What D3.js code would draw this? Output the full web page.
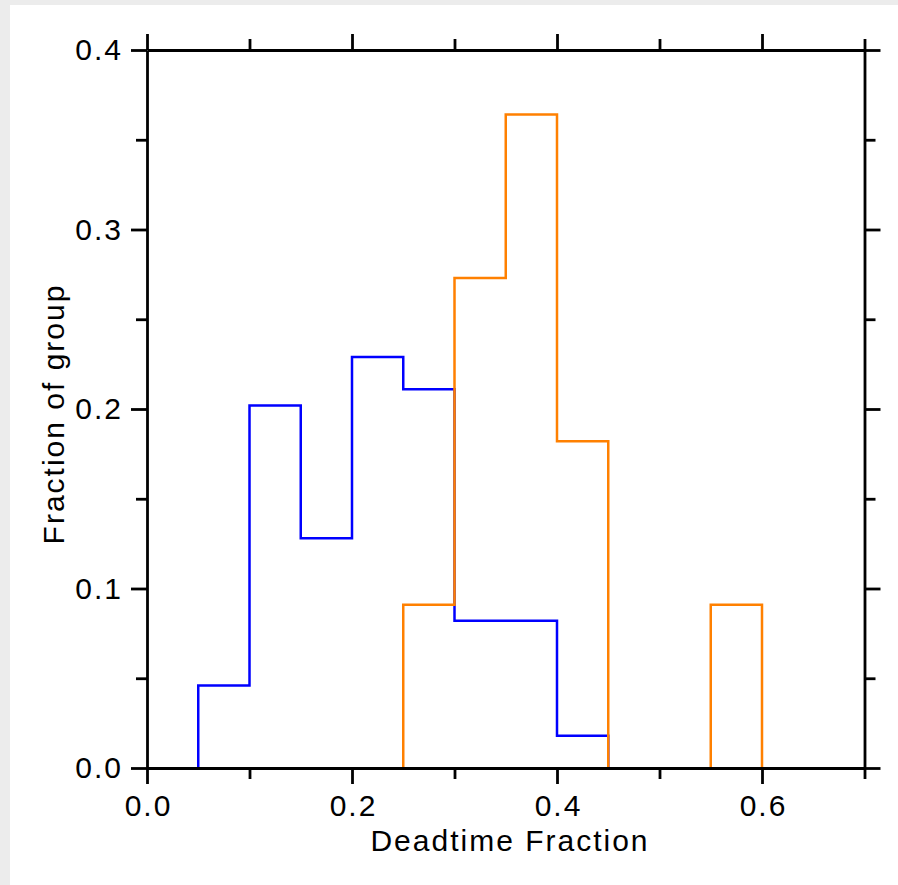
<!DOCTYPE html>
<html>
<head>
<meta charset="utf-8">
<script src="https://cdn.jsdelivr.net/npm/d3@7"></script>
<style>
  body { margin: 0; background: #ececec; }
  svg { display: block; }
  text { font-family: "Liberation Sans", Arial, Helvetica, sans-serif; letter-spacing: 2px; }
</style>
</head>
<body>
<script>
'use strict';

// histogram bins (left edge of each 0.05 bin) and fraction of group
const binWidth = 0.05;
const blueBins = [0.05, 0.10, 0.15, 0.20, 0.25, 0.30, 0.35, 0.40];
const blueFrac = [0.046, 0.202, 0.128, 0.229, 0.211, 0.082, 0.082, 0.018];
const orangeBins = [0.25, 0.30, 0.35, 0.40, 0.45, 0.50, 0.55];
const orangeFrac = [0.091, 0.273, 0.364, 0.182, 0.0, 0.0, 0.091];

// ticks
const xMajor = [0.0, 0.2, 0.4, 0.6];
const xMinor = [0.1, 0.3, 0.5, 0.7];
const yMajor = [0.0, 0.1, 0.2, 0.3, 0.4];
const yMinor = [0.05, 0.15, 0.25, 0.35];

const W = 898, H = 885;
const m = {left: 147, right: 864.5, top: 50, bottom: 768};

const svg = d3.select('body').append('svg')
  .attr('width', W)
  .attr('height', H);

// white panel on grey page
svg.append('rect')
  .attr('x', 10).attr('y', 5)
  .attr('width', W - 10).attr('height', H - 5)
  .attr('fill', '#fff');

const x = d3.scaleLinear().domain([0, 0.7]).range([m.left, m.right]);
const y = d3.scaleLinear().domain([0, 0.4]).range([m.bottom, m.top]);

// step outline for a histogram, empty bins leave a gap
function stepPoints(bins, fracs) {
  let pts = [];
  let prevZero = true;
  bins.forEach((b, i) => {
    let v = fracs[i];
    if (v === 0) {
      if (!prevZero) { pts.push([b, 0]); pts.push(null); }
      prevZero = true;
      return;
    }
    if (prevZero) pts.push([b, 0]);
    pts.push([b, v]);
    pts.push([b + binWidth, v]);
    prevZero = false;
  });
  if (!prevZero) pts.push([bins[bins.length - 1] + binWidth, 0]);
  return pts;
}

const line = d3.line()
  .defined(d => d !== null)
  .x(d => x(d[0]))
  .y(d => y(d[1]));

svg.append('path')
  .datum(stepPoints(blueBins, blueFrac))
  .attr('d', line)
  .attr('fill', 'none')
  .attr('stroke', '#0000ff')
  .attr('stroke-width', 2.5);

svg.append('path')
  .datum(stepPoints(orangeBins, orangeFrac))
  .attr('d', line)
  .attr('fill', 'none')
  .attr('stroke', '#ff8000')
  .attr('stroke-width', 2.5);

const fmt = d3.format('.1f');
const major = 16, minor = 11;

function styleAxis(g) {
  g.selectAll('path, line').attr('stroke', '#000').attr('stroke-width', 2.8);
  g.selectAll('text').attr('fill', '#000').style('font-size', '30px');
  return g;
}

// bottom
svg.append('g').attr('transform', `translate(0,${m.bottom})`)
  .call(d3.axisBottom(x).tickValues(xMajor).tickSize(major).tickSizeOuter(0)
    .tickPadding(11).tickFormat(fmt))
  .call(styleAxis)
  .selectAll('text').attr('dx', 1);
svg.append('g').attr('transform', `translate(0,${m.bottom})`)
  .call(d3.axisBottom(x).tickValues(xMinor).tickSize(minor).tickFormat(''))
  .call(styleAxis).select('.domain').remove();

// top
svg.append('g').attr('transform', `translate(0,${m.top})`)
  .call(d3.axisTop(x).tickValues(xMajor).tickSize(major).tickSizeOuter(0).tickFormat(''))
  .call(styleAxis);
svg.append('g').attr('transform', `translate(0,${m.top})`)
  .call(d3.axisTop(x).tickValues(xMinor).tickSize(minor).tickFormat(''))
  .call(styleAxis).select('.domain').remove();

// left
svg.append('g').attr('transform', `translate(${m.left},0)`)
  .call(d3.axisLeft(y).tickValues(yMajor).tickSize(major).tickSizeOuter(0)
    .tickPadding(8).tickFormat(fmt))
  .call(styleAxis);
svg.append('g').attr('transform', `translate(${m.left},0)`)
  .call(d3.axisLeft(y).tickValues(yMinor).tickSize(minor).tickFormat(''))
  .call(styleAxis).select('.domain').remove();

// right
svg.append('g').attr('transform', `translate(${m.right},0)`)
  .call(d3.axisRight(y).tickValues(yMajor).tickSize(major).tickSizeOuter(0).tickFormat(''))
  .call(styleAxis);
svg.append('g').attr('transform', `translate(${m.right},0)`)
  .call(d3.axisRight(y).tickValues(yMinor).tickSize(minor).tickFormat(''))
  .call(styleAxis).select('.domain').remove();

// axis titles
svg.append('text')
  .attr('x', 510)
  .attr('y', 851)
  .attr('text-anchor', 'middle')
  .style('font-size', '30px')
  .text('Deadtime Fraction');

svg.append('text')
  .attr('transform', 'translate(64, 414) rotate(-90)')
  .attr('text-anchor', 'middle')
  .style('font-size', '30px')
  .text('Fraction of group');
</script>
</body>
</html>
